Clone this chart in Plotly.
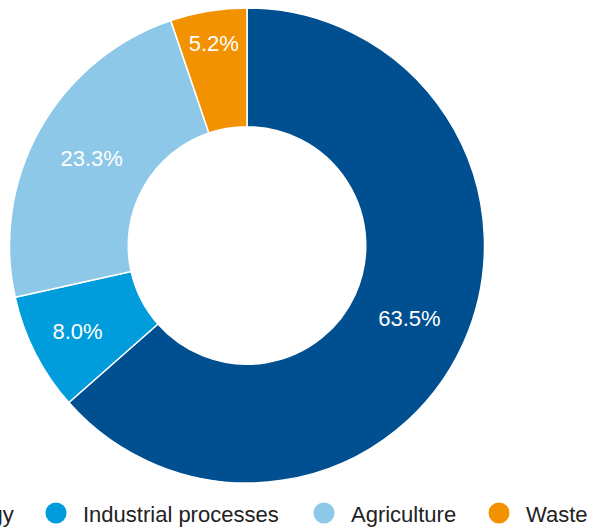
import plotly.graph_objects as go

# Emissions share by sector
sectors = ["Energy", "Industrial processes", "Agriculture", "Waste"]
shares = [63.5, 8.0, 23.3, 5.2]
colors = ["#004f91", "#009cdc", "#8dc8e8", "#f39200"]

W, H = 590, 531
FONT = "Liberation Sans, Arial, Helvetica, sans-serif"

fig = go.Figure()

fig.add_trace(go.Pie(
    labels=sectors,
    values=shares,
    sort=False,
    direction="clockwise",
    rotation=0,
    hole=0.5,
    marker=dict(colors=colors, line=dict(color="white", width=1.5)),
    texttemplate="%{value:.1f}%",
    textposition="inside",
    insidetextorientation="horizontal",
    textfont=dict(family=FONT, size=22, color="white"),
    showlegend=False,
    hoverinfo="label+value",
    domain=dict(x=[9.5 / W, 484.5 / W], y=[(H - 483) / H, (H - 8) / H]),
))

# Horizontal legend row along the bottom (marker centre x, in px), running
# past the left edge of the canvas
legend_x = [-83, 56, 324, 499]
legend_y = 513
r = 10.5


def px_x(v):
    return v / W


def px_y(v):
    return (H - v) / H


for name, c, cx in zip(sectors, colors, legend_x):
    fig.add_shape(
        type="circle", xref="paper", yref="paper",
        x0=px_x(cx - r), x1=px_x(cx + r),
        y0=px_y(legend_y + r), y1=px_y(legend_y - r),
        fillcolor=c, line=dict(width=0),
    )
    fig.add_annotation(
        xref="paper", yref="paper",
        x=px_x(cx + 25), y=px_y(legend_y + 1),
        xanchor="left", yanchor="middle",
        text=name, showarrow=False,
        font=dict(family=FONT, size=22, color="#222222"),
    )

fig.update_layout(
    width=W, height=H,
    margin=dict(l=0, r=0, t=0, b=0, autoexpand=False),
    paper_bgcolor="white",
    plot_bgcolor="white",
    uniformtext=dict(minsize=22, mode="show"),
    showlegend=False,
)

fig.write_html("out.html")
